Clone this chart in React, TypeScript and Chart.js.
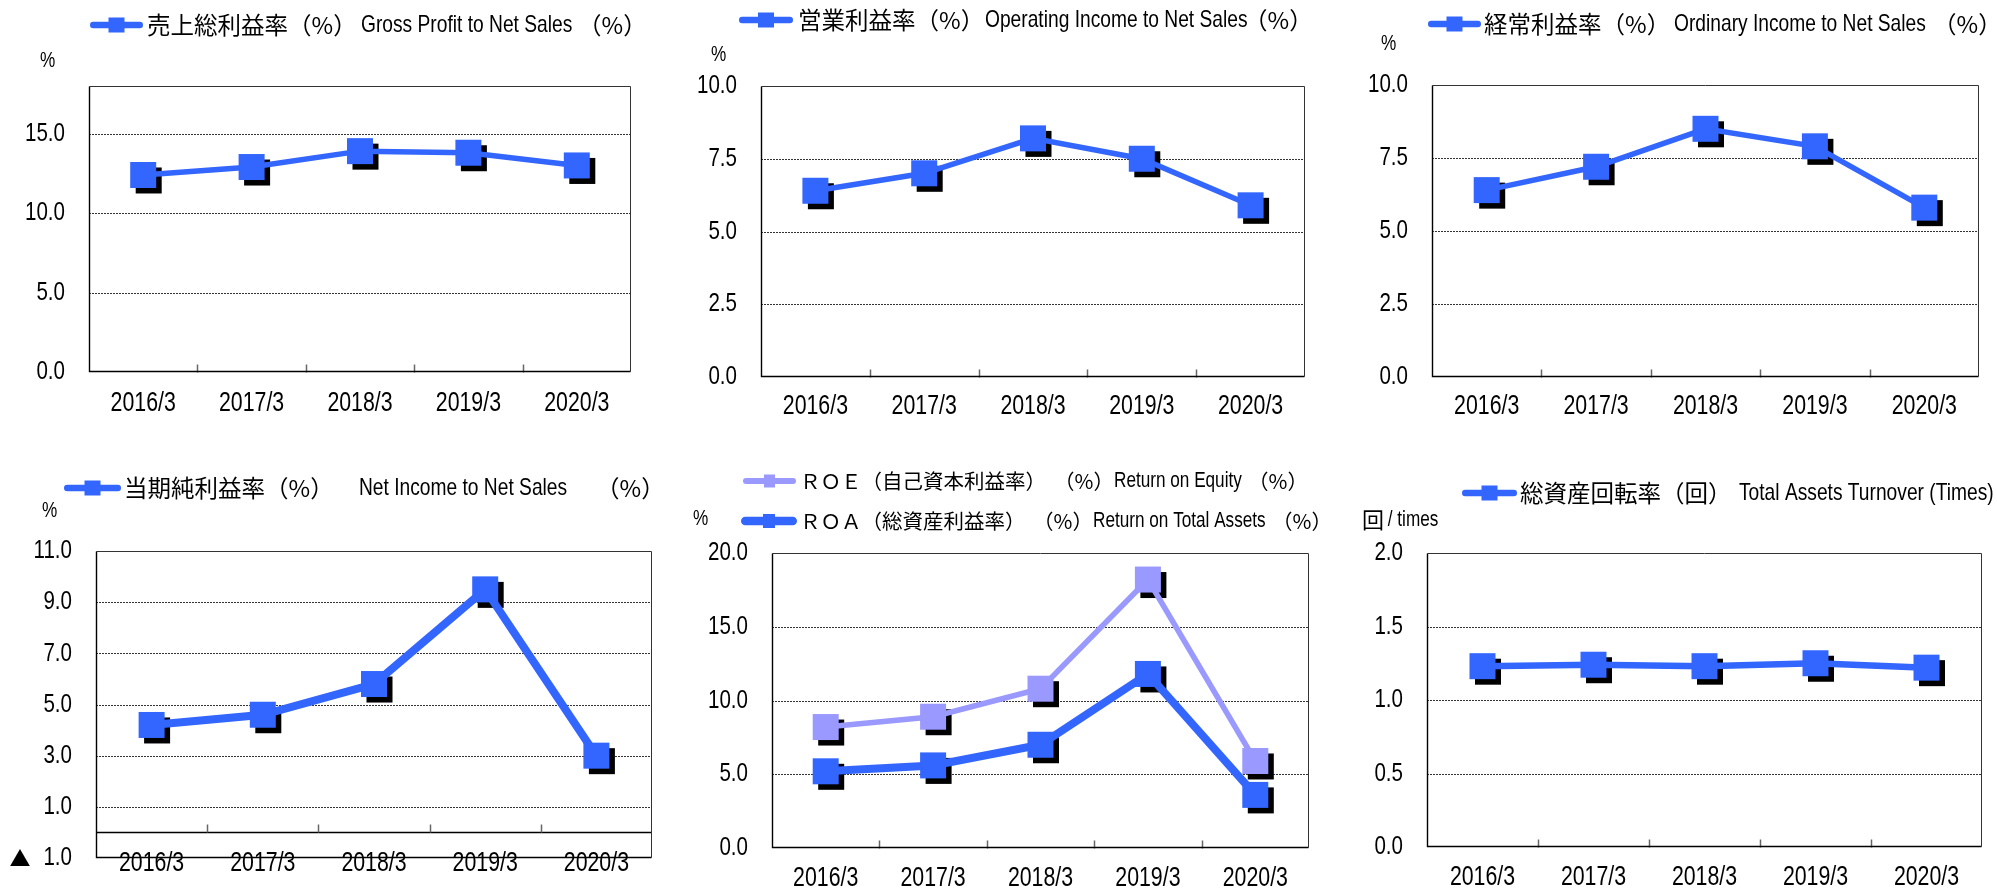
import React, { useEffect, useRef } from 'react';
import { Chart, registerables } from 'chart.js';

Chart.register(...registerables);

// ---------- data ----------
const categories = ['2016/3', '2017/3', '2018/3', '2019/3', '2020/3'];

const grossProfitRatio = [12.4, 12.9, 13.9, 13.8, 13.0];
const operatingIncomeRatio = [6.4, 7.0, 8.2, 7.5, 5.9];
const ordinaryIncomeRatio = [6.4, 7.2, 8.5, 7.9, 5.8];
const netIncomeRatio = [4.2, 4.6, 5.8, 9.5, 3.0];
const roeValues = [8.2, 8.9, 10.8, 18.2, 5.9];
const roaValues = [5.2, 5.6, 7.0, 11.8, 3.6];
const turnoverValues = [1.23, 1.24, 1.23, 1.25, 1.22];

const grossTicks = [0, 5, 10, 15];
const grossTickLabels = ['0.0', '5.0', '10.0', '15.0'];
const incomeTicks = [0, 2.5, 5, 7.5, 10];
const incomeTickLabels = ['0.0', '2.5', '5.0', '7.5', '10.0'];
const netTicks = [-1, 1, 3, 5, 7, 9, 11];
const netTickLabels = ['▲ 1.0', '1.0', '3.0', '5.0', '7.0', '9.0', '11.0'];
const roeRoaTicks = [0, 5, 10, 15, 20];
const roeRoaTickLabels = ['0.0', '5.0', '10.0', '15.0', '20.0'];
const turnoverTicks = [0, 0.5, 1, 1.5, 2];
const turnoverTickLabels = ['0.0', '0.5', '1.0', '1.5', '2.0'];

// ---------- style ----------
const BLUE = '#3366FF';
const LILAC = '#9999FF';
const LATIN = '"Liberation Sans", Arimo, Arial, sans-serif';
const JPF = '"Noto Sans CJK JP", "Noto Sans CJK SC", sans-serif';
const W = 1997;
const H = 890;
const MARK = 26;
const SHADOW = 5.5;

type Part = { t: string; x: number; jp?: boolean; size: number; sx?: number };
type LegendRow = { y: number; x0: number; x1: number; color: string; lw: number; sqw: number; sqh: number; parts: Part[] };
type Cfg = {
  area: [number, number, number, number];
  yMin: number;
  yMax: number;
  yTicks: number[];
  yLabels: string[];
  xDy: number;
  unit: Part[];
  unitY: number;
  datasets: { data: number[]; color: string; width: number }[];
  legend: LegendRow[];
};

const EN = 24;
const ENSX = 0.8;
const JPS = 23.5;

const configs: Cfg[] = [
  {
    area: [89, 86, 631, 372], yMin: 0, yMax: 18, yTicks: grossTicks, yLabels: grossTickLabels, xDy: 32,
    unit: [{ t: '%', x: 40, size: 22 }], unitY: 61,
    datasets: [{ data: grossProfitRatio, color: BLUE, width: 5.5 }],
    legend: [{ y: 25, x0: 90, x1: 143, color: BLUE, lw: 6.5, sqw: 16, sqh: 15, parts: [
      { t: '売上総利益率（%）', x: 147, jp: true, size: JPS },
      { t: 'Gross Profit to Net Sales', x: 361, size: EN },
      { t: '（%）', x: 578, jp: true, size: JPS },
    ] }],
  },
  {
    area: [761, 86, 1305, 377], yMin: 0, yMax: 10, yTicks: incomeTicks, yLabels: incomeTickLabels, xDy: 30,
    unit: [{ t: '%', x: 711, size: 22 }], unitY: 55,
    datasets: [{ data: operatingIncomeRatio, color: BLUE, width: 5.5 }],
    legend: [{ y: 20, x0: 739, x1: 793, color: BLUE, lw: 6.5, sqw: 16, sqh: 15, parts: [
      { t: '営業利益率（%）', x: 798, jp: true, size: JPS },
      { t: 'Operating Income to Net Sales', x: 985, size: EN },
      { t: '（%）', x: 1244, jp: true, size: JPS },
    ] }],
  },
  {
    area: [1432, 85, 1979, 377], yMin: 0, yMax: 10, yTicks: incomeTicks, yLabels: incomeTickLabels, xDy: 30,
    unit: [{ t: '%', x: 1381, size: 22 }], unitY: 44,
    datasets: [{ data: ordinaryIncomeRatio, color: BLUE, width: 5.5 }],
    legend: [{ y: 24, x0: 1428, x1: 1481, color: BLUE, lw: 6.5, sqw: 16, sqh: 15, parts: [
      { t: '経常利益率（%）', x: 1484, jp: true, size: JPS },
      { t: 'Ordinary Income to Net Sales', x: 1674, size: EN },
      { t: '（%）', x: 1933, jp: true, size: JPS },
    ] }],
  },
  {
    area: [96, 551, 652, 858], yMin: -1, yMax: 11, yTicks: netTicks, yLabels: netTickLabels, xDy: 6,
    unit: [{ t: '%', x: 42, size: 22 }], unitY: 511,
    datasets: [{ data: netIncomeRatio, color: BLUE, width: 8 }],
    legend: [{ y: 488, x0: 64, x1: 121, color: BLUE, lw: 6.5, sqw: 16, sqh: 15, parts: [
      { t: '当期純利益率（%）', x: 124, jp: true, size: JPS },
      { t: 'Net Income to Net Sales', x: 359, size: EN },
      { t: '（%）', x: 596, jp: true, size: JPS },
    ] }],
  },
  {
    area: [772, 553, 1309, 848], yMin: 0, yMax: 20, yTicks: roeRoaTicks, yLabels: roeRoaTickLabels, xDy: 31,
    unit: [{ t: '%', x: 693, size: 22 }], unitY: 519,
    datasets: [
      { data: roeValues, color: LILAC, width: 5.5 },
      { data: roaValues, color: BLUE, width: 8 },
    ],
    legend: [
      { y: 481, x0: 743, x1: 796, color: LILAC, lw: 6, sqw: 11, sqh: 13, parts: [
        { t: 'ＲＯＥ（自己資本利益率）', x: 800, jp: true, size: 20.5 },
        { t: '（%）', x: 1054, jp: true, size: 20.5 },
        { t: 'Return on Equity', x: 1114, size: 22, sx: 0.78 },
        { t: '（%）', x: 1248, jp: true, size: 20.5 },
      ] },
      { y: 521, x0: 741, x1: 797, color: BLUE, lw: 8.5, sqw: 12, sqh: 14, parts: [
        { t: 'ＲＯＡ（総資産利益率）', x: 800, jp: true, size: 20.5 },
        { t: '（%）', x: 1033, jp: true, size: 20.5 },
        { t: 'Return on Total Assets', x: 1093, size: 22, sx: 0.78 },
        { t: '（%）', x: 1272, jp: true, size: 20.5 },
      ] },
    ],
  },
  {
    area: [1427, 553, 1982, 847], yMin: 0, yMax: 2, yTicks: turnoverTicks, yLabels: turnoverTickLabels, xDy: 31,
    unit: [{ t: '回', x: 1362, jp: true, size: 22 }, { t: ' / times', x: 1383, size: 22, sx: 0.78 }], unitY: 520,
    datasets: [{ data: turnoverValues, color: BLUE, width: 6.5 }],
    legend: [{ y: 493, x0: 1462, x1: 1517, color: BLUE, lw: 6.5, sqw: 16, sqh: 15, parts: [
      { t: '総資産回転率（回）', x: 1520, jp: true, size: JPS },
      { t: 'Total Assets Turnover (Times)', x: 1739, size: EN },
    ] }],
  },
];

function drawText(ctx: CanvasRenderingContext2D, s: string, x: number, y: number, family: string, size: number, sx: number, align: 'left' | 'right' | 'center') {
  ctx.save();
  ctx.font = `${size}px ${family}`;
  ctx.textBaseline = 'middle';
  ctx.textAlign = 'left';
  ctx.fillStyle = '#000';
  const w = ctx.measureText(s).width * sx;
  const x0 = align === 'right' ? x - w : align === 'center' ? x - w / 2 : x;
  ctx.translate(x0, y);
  ctx.scale(sx, 1);
  ctx.fillText(s, 0, 0);
  ctx.restore();
}

function makeOverlay(cfg: Cfg) {
  return {
    id: 'overlay',
    beforeDatasetsDraw(chart: any) {
      const { ctx, chartArea: a, scales } = chart;
      const x = scales.x;
      const y = scales.y;
      ctx.save();
      // dotted grid lines
      ctx.strokeStyle = '#333';
      ctx.lineWidth = 1;
      ctx.setLineDash([2, 1]);
      for (const v of cfg.yTicks) {
        if (v <= cfg.yMin || v >= cfg.yMax) continue;
        const py = Math.round(y.getPixelForValue(v)) + 0.5;
        ctx.beginPath();
        ctx.moveTo(a.left, py);
        ctx.lineTo(a.right, py);
        ctx.stroke();
      }
      ctx.setLineDash([]);
      const y0 = Math.round(y.getPixelForValue(0)) + 0.5;
      if (cfg.yMin < 0) {
        ctx.strokeStyle = '#000';
        ctx.lineWidth = 1.3;
        ctx.beginPath();
        ctx.moveTo(a.left, y0);
        ctx.lineTo(a.right, y0);
        ctx.stroke();
      }
      // category separators (tick marks)
      ctx.strokeStyle = '#666';
      ctx.lineWidth = 1.5;
      for (let i = 0; i < categories.length - 1; i++) {
        const px = Math.round((x.getPixelForValue(i) + x.getPixelForValue(i + 1)) / 2) + 0.5;
        ctx.beginPath();
        ctx.moveTo(px, y0);
        ctx.lineTo(px, y0 - 8);
        ctx.stroke();
      }
      // plot frame
      const l = Math.round(a.left) + 0.5;
      const r = Math.round(a.right) - 0.5;
      const t = Math.round(a.top) + 0.5;
      const b = Math.round(a.bottom) - 0.5;
      ctx.lineWidth = 1;
      ctx.strokeStyle = '#333';
      ctx.beginPath();
      ctx.moveTo(l, t);
      ctx.lineTo(r, t);
      ctx.lineTo(r, b);
      ctx.stroke();
      ctx.strokeStyle = '#000';
      ctx.lineWidth = 1.4;
      ctx.beginPath();
      ctx.moveTo(l, t);
      ctx.lineTo(l, b);
      ctx.lineTo(r, b);
      ctx.stroke();
      ctx.restore();
    },
    beforeDatasetDraw(chart: any, args: any) {
      const { ctx } = chart;
      ctx.save();
      ctx.fillStyle = '#000';
      for (const p of args.meta.data) {
        ctx.fillRect(p.x - MARK / 2 + SHADOW, p.y - MARK / 2 + SHADOW, MARK, MARK);
      }
      ctx.restore();
    },
    afterDraw(chart: any) {
      const { ctx, chartArea: a, scales } = chart;
      const x = scales.x;
      const y = scales.y;
      // y tick labels
      cfg.yTicks.forEach((v, i) => {
        const py = y.getPixelForValue(v);
        const lab = cfg.yLabels[i];
        if (lab.startsWith('▲')) {
          drawText(ctx, lab.replace('▲', '').trim(), a.left - 24, py, LATIN, 26, 0.79, 'right');
          drawText(ctx, '▲', a.left - 76, py, JPF, 21, 1, 'center');
        } else {
          drawText(ctx, lab, a.left - 24, py, LATIN, 26, 0.79, 'right');
        }
      });
      // x labels
      categories.forEach((c, i) => {
        drawText(ctx, c, x.getPixelForValue(i), a.bottom + cfg.xDy, LATIN, 27, 0.79, 'center');
      });
      // unit
      for (const p of cfg.unit) {
        drawText(ctx, p.t, p.x, cfg.unitY, p.jp ? JPF : LATIN, p.size, p.jp ? 1 : (p.sx ?? 0.78), 'left');
      }
      // legend
      for (const row of cfg.legend) {
        ctx.save();
        ctx.strokeStyle = row.color;
        ctx.lineWidth = row.lw;
        ctx.lineCap = 'round';
        ctx.beginPath();
        ctx.moveTo(row.x0 + row.lw / 2, row.y);
        ctx.lineTo(row.x1 - row.lw / 2, row.y);
        ctx.stroke();
        ctx.fillStyle = row.color;
        const cx = (row.x0 + row.x1) / 2;
        ctx.fillRect(cx - row.sqw / 2, row.y - row.sqh / 2, row.sqw, row.sqh);
        ctx.restore();
        for (const p of row.parts) {
          drawText(ctx, p.t, p.x, row.y, p.jp ? JPF : LATIN, p.size, p.jp ? 1 : (p.sx ?? ENSX), 'left');
        }
      }
    },
  };
}

function RatioChart({ cfg }: { cfg: Cfg }) {
  const ref = useRef<HTMLCanvasElement | null>(null);
  useEffect(() => {
    if (!ref.current) return;
    const [L, T, R, B] = cfg.area;
    const chart = new Chart(ref.current, {
      type: 'line',
      data: {
        labels: categories,
        datasets: cfg.datasets.map((d) => ({
          data: d.data,
          borderColor: d.color,
          borderWidth: d.width,
          backgroundColor: d.color,
          pointStyle: 'rect',
          pointRadius: (MARK / 2) / Math.SQRT1_2,
          pointHoverRadius: (MARK / 2) / Math.SQRT1_2,
          pointBackgroundColor: d.color,
          pointBorderColor: d.color,
          pointBorderWidth: 0,
          tension: 0,
          fill: false,
          clip: false as any,
        })),
      },
      options: {
        responsive: false,
        animation: false,
        devicePixelRatio: 1,
        events: [],
        layout: { autoPadding: false, padding: { left: L, top: T, right: W - R, bottom: H - B } },
        plugins: { legend: { display: false }, tooltip: { enabled: false }, title: { display: false } },
        scales: {
          x: { type: 'category', offset: true, display: false },
          y: { type: 'linear', min: cfg.yMin, max: cfg.yMax, display: false },
        },
      },
      plugins: [makeOverlay(cfg)],
    } as any);
    return () => chart.destroy();
  }, [cfg]);
  return (
    <canvas
      ref={ref}
      width={W}
      height={H}
      style={{ position: 'absolute', left: 0, top: 0, width: W, height: H }}
    />
  );
}

export default function App() {
  return (
    <div style={{ position: 'absolute', left: 0, top: 0, width: W, height: H, background: '#fff', overflow: 'hidden' }}>
      {configs.map((cfg, i) => (
        <RatioChart key={i} cfg={cfg} />
      ))}
    </div>
  );
}
